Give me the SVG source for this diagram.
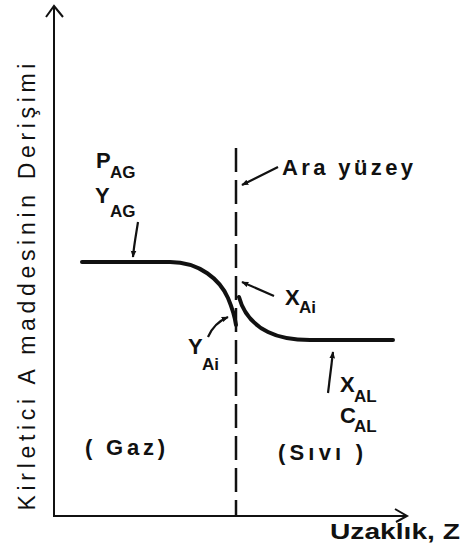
<svg xmlns="http://www.w3.org/2000/svg" width="461" height="556" viewBox="0 0 461 556">
<defs>
<marker id="ah" viewBox="0 0 10 10" refX="9" refY="5" markerWidth="7" markerHeight="7" orient="auto" markerUnits="userSpaceOnUse">
<path d="M0,1 L10,5 L0,9 Z" fill="#111"/>
</marker>
<style>
.lbl{font-family:"Liberation Sans","DejaVu Sans",sans-serif;font-weight:bold;fill:#111;font-size:22px}
.sub{font-family:"Liberation Sans","DejaVu Sans",sans-serif;font-weight:bold;fill:#111;font-size:17px}
.ax{stroke:#111;stroke-width:2;fill:none}
.crv{stroke:#111;stroke-width:4;fill:none;stroke-linecap:round}
.arr{stroke:#111;stroke-width:2.2;fill:none;marker-end:url(#ah)}
</style>
</defs>
<rect width="461" height="556" fill="#fff"/>
<g id="connectors">
<path class="ax" d="M54,6 V516 H407"/>
<polyline class="ax" points="46,17 54,6 63,17"/>
<polyline class="ax" points="395,509 407,516 396,522"/>
<path d="M236,148 V516" stroke="#111" stroke-width="2.5" stroke-dasharray="24 8" fill="none"/>
<path class="crv" d="M82,262 L170,262 C200,262 220,280 228,298 C233,310 235,318 236,325"/>
<path class="crv" d="M239,297 C243,312 252,324 268,332 C280,338 292,340 310,340 L393,340"/>
<path class="arr" d="M138,222 C136,235 134,245 133,257"/>
<path class="arr" d="M278,167 L242,185"/>
<path class="arr" d="M274,296 L242,282"/>
<path class="arr" d="M208,337 Q214,323 228,317"/>
<path class="arr" d="M328,393 L333,352"/>
</g>
<g id="ylabel"><text class="lbl" style="font-weight:normal;font-size:23px" transform="translate(35,287) rotate(-90)" text-anchor="middle" textLength="447" lengthAdjust="spacing">Kirletici A maddesinin Derişimi</text></g>
<g id="xlabel"><text class="lbl" x="330" y="539" textLength="130" lengthAdjust="spacingAndGlyphs">Uzaklık, Z</text></g>
<g id="PAG"><text class="lbl" x="96" y="168">P</text><text class="sub" x="110" y="178">AG</text></g>
<g id="YAG"><text class="lbl" x="95" y="203">Y</text><text class="sub" x="110" y="217">AG</text></g>
<g id="arayuzey"><text class="lbl" x="282" y="175" textLength="131" lengthAdjust="spacing">Ara yüzey</text></g>
<g id="XAi"><text class="lbl" x="285" y="305">X</text><text class="sub" x="299" y="313">Ai</text></g>
<g id="YAi"><text class="lbl" x="188" y="354">Y</text><text class="sub" x="202" y="370">Ai</text></g>
<g id="XAL"><text class="lbl" x="340" y="392">X</text><text class="sub" x="354" y="402">AL</text></g>
<g id="CAL"><text class="lbl" x="340" y="423">C</text><text class="sub" x="354" y="432">AL</text></g>
<g id="gaz"><text class="lbl" x="85" y="455" textLength="80" lengthAdjust="spacing">( Gaz)</text></g>
<g id="sivi"><text class="lbl" x="278" y="460" textLength="85" lengthAdjust="spacing">(Sıvı )</text></g>
</svg>
